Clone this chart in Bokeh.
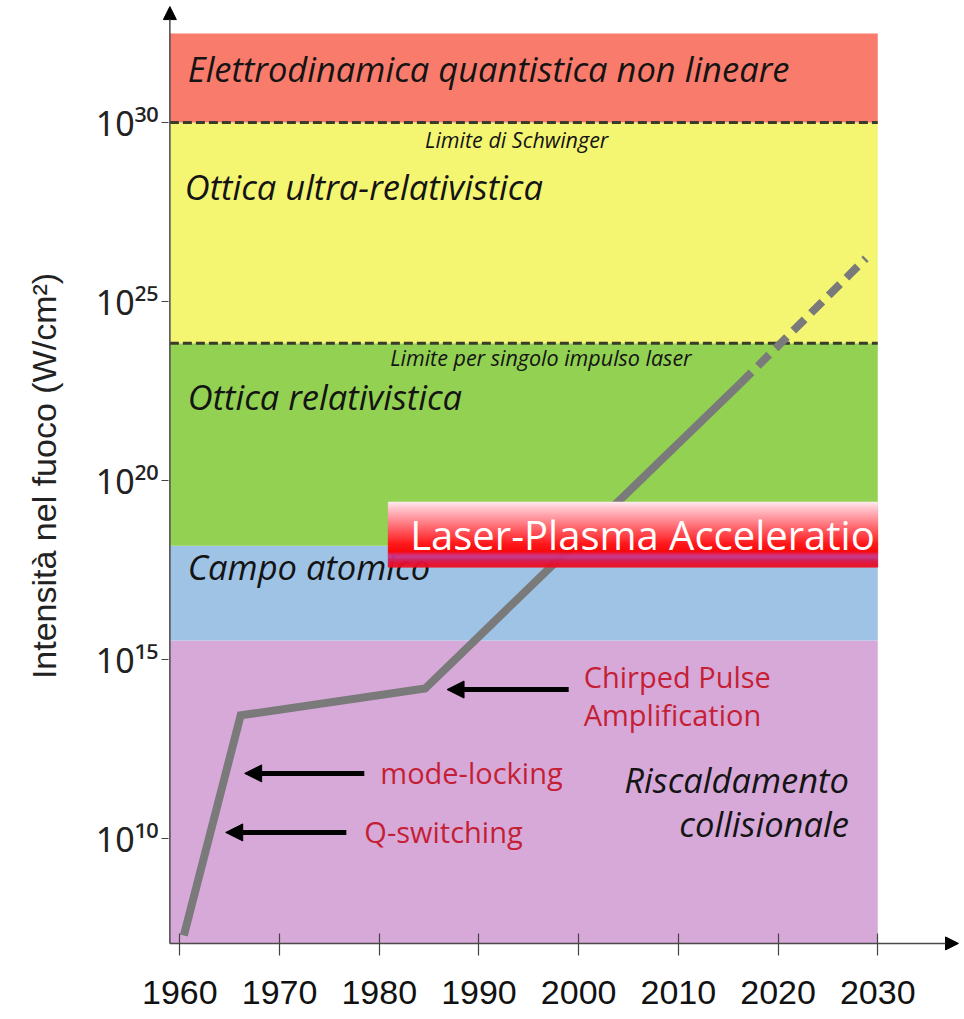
import math
from bokeh.plotting import figure
from bokeh.models import Range1d, FixedTicker, Label, Arrow, NormalHead, CustomJSTickFormatter
from bokeh.core.properties import value
from bokeh.embed import file_html
from bokeh.resources import INLINE

# ---------------- data ----------------
band_names = ["Riscaldamento collisionale", "Campo atomico", "Ottica relativistica",
              "Ottica ultra-relativistica", "Elettrodinamica quantistica non lineare"]
band_bottom = [1.17e7, 3.4e15, 1.5e18, 6.8e23, 1.0e30]      # W/cm^2
band_top = [3.4e15, 1.5e18, 6.8e23, 1.0e30, 3.1e32]
band_start_year = 1959.0
band_end_year = 2030.0

limit_names = ["Limite di Schwinger", "Limite per singolo impulso laser"]
limit_values = [1.0e30, 6.8e23]

years = [1960.4, 1966.1, 1984.6, 2016.2]
intensity = [1.95e7, 2.75e13, 1.55e14, 5.1e22]
proj_years = [2016.2, 2028.8]
proj_intensity = [5.1e22, 1.6e26]

milestones = ["Q-switching", "mode-locking", "Chirped Pulse Amplification"]
milestone_tip_year = [1964.6, 1966.5, 1986.8]
milestone_tail_year = [1976.7, 1978.5, 1999.0]
milestone_intensity = [1.48e10, 6.6e11, 1.45e14]

x_ticks = [1960, 1970, 1980, 1990, 2000, 2010, 2020, 2030]
y_ticks = [1e10, 1e15, 1e20, 1e25, 1e30]

# ---------------- styles ----------------
band_colors = ["#d7a9d9", "#9ec3e5", "#93d152", "#f4f672", "#f97b6b"]
SANS = "Liberation Sans"
TXT = "Open Sans"
RED_TXT = "#c51f35"
AXIS_C = "#4a4a4a"

axis_x0 = 1959.0          # where the drawn y axis sits
axis_y0 = 10 ** 7.07      # where the drawn x axis sits
x_tip = 2038.1
y_tip = 10 ** 33.24

p = figure(width=962, height=1019,
           x_range=Range1d(1958.16, 2038.5),
           y_range=Range1d(10 ** 6.844, 10 ** 33.41),
           y_axis_type="log",
           output_backend="svg", toolbar_location=None,
           min_border_left=161, min_border_right=0, min_border_top=0, min_border_bottom=68)
p.outline_line_color = None
p.grid.visible = False
p.background_fill_color = "white"
p.border_fill_color = "white"

# x axis (ticks + labels; visible axis line drawn as arrow)
p.xaxis.ticker = FixedTicker(ticks=x_ticks)
p.xaxis.minor_tick_line_color = None
p.xaxis.axis_line_color = None
p.xaxis.major_tick_in = 18
p.xaxis.major_tick_out = 4
p.xaxis.major_tick_line_color = "#444444"
p.xaxis.major_tick_line_width = 1.2
p.xaxis.major_label_text_font = SANS
p.xaxis.major_label_text_font_size = "34px"
p.xaxis.major_label_text_color = "#111111"
p.xaxis.major_label_standoff = 25

# y axis with 10^n labels
p.yaxis.ticker = FixedTicker(ticks=y_ticks)
p.yaxis.formatter = CustomJSTickFormatter(code="""
const sup = {'0':'\u2070','1':'\u00b9','2':'\u00b2','3':'\u00b3','4':'\u2074',
             '5':'\u2075','6':'\u2076','7':'\u2077','8':'\u2078','9':'\u2079'};
const e = String(Math.round(Math.log10(tick)));
return '10' + e.split('').map(c => sup[c]).join('');
""")
p.yaxis.minor_tick_line_color = None
p.yaxis.axis_line_color = None
p.yaxis.major_tick_in = 7
p.yaxis.major_tick_out = 0
p.yaxis.major_tick_line_color = "#444444"
p.yaxis.major_label_text_font = "Noto Sans"
p.yaxis.major_label_text_font_size = "34px"
p.yaxis.major_label_text_color = "#222222"
p.yaxis.major_label_text_baseline = "alphabetic"
p.yaxis.major_label_standoff = 3
p.yaxis.axis_label = "Intensità nel fuoco (W/cm²)"
p.yaxis.axis_label_text_font = SANS
p.yaxis.axis_label_text_font_style = "normal"
p.yaxis.axis_label_text_font_size = "34px"
p.yaxis.axis_label_text_color = "#222222"
p.yaxis.axis_label_standoff = 30

# bands
p.quad(left=[band_start_year] * len(band_bottom), right=[band_end_year] * len(band_bottom),
       bottom=band_bottom, top=band_top, fill_color=band_colors, line_color=None)

# limit lines
for lv in limit_values:
    p.line([band_start_year, band_end_year], [lv, lv], line_color="#3b3b2c",
           line_width=3, line_dash="9 4")

# trend line
p.line(years, intensity, line_color="#7a7a7a", line_width=8, line_join="miter")
p.line(proj_years, proj_intensity, line_color="#7a7a7a", line_width=8, line_dash="16 9")

# milestone arrows
for tip, tail, lvl in zip(milestone_tip_year, milestone_tail_year, milestone_intensity):
    p.add_layout(Arrow(end=NormalHead(size=17, fill_color="black", line_color="black"),
                       x_start=tail, y_start=lvl, x_end=tip, y_end=lvl,
                       line_color="black", line_width=5))

# drawn axis lines with arrowheads
p.add_layout(Arrow(end=NormalHead(size=13, fill_color="black", line_color="black"),
                   x_start=axis_x0, y_start=axis_y0, x_end=axis_x0, y_end=y_tip,
                   line_color=AXIS_C, line_width=1.5))
p.add_layout(Arrow(end=NormalHead(size=13, fill_color="black", line_color="black"),
                   x_start=axis_x0, y_start=axis_y0, x_end=x_tip, y_end=axis_y0,
                   line_color=AXIS_C, line_width=1.5))

# region labels
def lab(x, e, txt, size, color="#141414", style="italic", align="left", xo=0):
    p.add_layout(Label(x=x, y=10 ** e, x_offset=xo, text=txt, text_align=align,
                       text_baseline="middle", text_font=TXT, text_font_style=style,
                       text_font_size=size, text_color=color))

BIG = "34.5px"
SMALL = "21.5px"
lab(1960.8, 31.50, band_names[4], BIG)
lab(1984.6, 29.52, limit_names[0], SMALL)
lab(1960.5, 28.22, band_names[3], BIG)
lab(1981.1, 23.45, limit_names[1], SMALL)
lab(1960.8, 22.36, band_names[2], BIG)
lab(1960.8, 17.60, band_names[1], BIG)
lab(2027.1, 11.66, "Riscaldamento", BIG, align="right")
lab(2027.1, 10.43, "collisionale", BIG, align="right")

# milestone labels
RSZ = "29px"
lab(milestone_tail_year[0], 10.20, milestones[0], RSZ, RED_TXT, "normal", xo=18)
lab(milestone_tail_year[1], 11.85, milestones[1], RSZ, RED_TXT, "normal", xo=16)
lab(milestone_tail_year[2], 14.53, "Chirped Pulse", RSZ, RED_TXT, "normal", xo=15)
lab(milestone_tail_year[2], 13.47, "Amplification", RSZ, RED_TXT, "normal", xo=15)

# overlay banner with vertical gradient
stops = [(0, (255, 236, 240)), (6, (255, 200, 208)), (15, (255, 156, 164)),
         (25, (255, 108, 115)), (35, (255, 60, 65)), (45, (255, 12, 14)),
         (50, (255, 0, 0)), (52, (224, 32, 90)), (55, (200, 56, 140)),
         (58, (216, 30, 90)), (62, (232, 16, 46)), (65, (238, 16, 32))]
box_top_e, box_bot_e = 19.40, 17.58
n = 65
h = (box_top_e - box_bot_e) / n

def grad(i):
    for (a, ca), (b, cb) in zip(stops[:-1], stops[1:]):
        if a <= i <= b:
            f = (i - a) / (b - a) if b > a else 0
            c = [round(ca[k] + (cb[k] - ca[k]) * f) for k in range(3)]
            return "#%02x%02x%02x" % tuple(c)
    return "#ee1020"

tops = [10 ** (box_top_e - i * h) for i in range(n)]
bots = [10 ** (box_top_e - (i + 1) * h) for i in range(n)]
cols = [grad(i + 0.5) for i in range(n)]
p.quad(left=[1980.9] * n, right=[2030.0] * n, top=tops, bottom=bots,
       fill_color=cols, line_color=cols, line_width=0.6, level="overlay")
p.text(x=[1983.1], y=[10 ** 18.50], text=["Laser-Plasma Acceleratio"],
       text_font=value("Open Sans"), text_font_size="40px", text_color="white",
       text_baseline="middle", level="overlay")

open("out.html", "w").write(file_html(p, INLINE))
